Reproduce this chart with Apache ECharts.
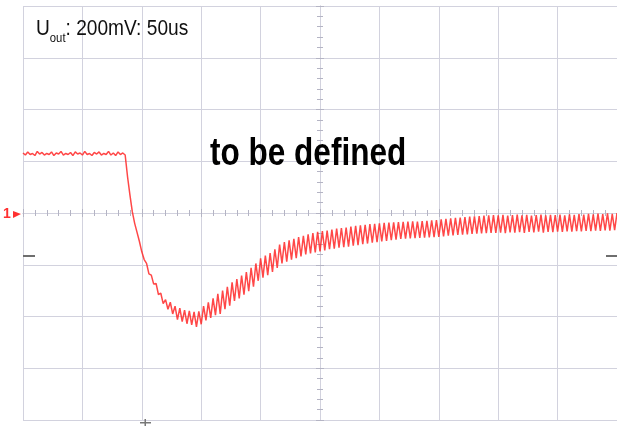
<!DOCTYPE html>
<html>
<head>
<meta charset="utf-8">
<script src="https://cdn.jsdelivr.net/npm/echarts@6/dist/echarts.min.js"></script>
<style>html,body{margin:0;padding:0;background:#fff;}#c{width:617px;height:426px;}</style>
</head>
<body>
<div id="c"></div>
<script>
// Oscilloscope capture: 200 mV/div, 50 us/div, 10 x 8 divisions
const timeMinUs = 0;
const timeMaxUs = 500;
const timeDivUs = 50;
const voltMinMv = -800;
const voltMaxMv = 800;
const voltDivMv = 200;
const sampleStartUs = 0;
const sampleStepUs = 2;
// trace values in mV, one every 2 us (0 mV = channel-1 marker)
const traceMv = [
  232,224,236,226,230,222,238,228,234,224,
  230,226,236,222,232,228,238,224,230,226,
  234,222,236,228,232,224,238,226,230,222,
  234,228,236,224,230,226,238,224,232,222,
  236,226,232,224,
  140,70,5,-40,-75,-110,-150,-180,-195,-235,
  -240,-275,-272,-315,-310,-350,-335,-372,-345,-390,
  -360,-412,-368,-420,-375,-428,-378,-432,-382,-440,
  -380,-430,-360,-415,-345,-405,-330,-395,-312,-390,
  -300,-372,-285,-358,-268,-340,-255,-330,-242,-316,
  -228,-302,-212,-285,-195,-262,-175,-250,-165,-240,
  -155,-228,-140,-212,-122,-195,-112,-188,-106,-180,
  -100,-175,-93,-168,-88,-160,-82,-156,-78,-152,
  -73,-148,-70,-145,-68,-140,-64,-138,-60,-134,
  -58,-132,-56,-130,-53,-126,-50,-124,-48,-120,
  -46,-118,-43,-115,-42,-113,-40,-110,-38,-108,
  -37,-105,-36,-103,-35,-100,-34,-99,-33,-98,
  -32,-97,-33,-96,-31,-95,-30,-94,-28,-93,
  -27,-92,-25,-90,-23,-88,-21,-87,-19,-85,
  -18,-84,-16,-83,-14,-81,-13,-80,-12,-79,
  -10,-78,-9,-77,-8,-77,-9,-76,-7,-78,
  -10,-75,-8,-76,-6,-74,-9,-77,-7,-73,
  -10,-75,-8,-72,-6,-76,-9,-73,-7,-74,
  -8,-72,-6,-73,-9,-71,-5,-72,-7,-70,
  -4,-71,-6,-69,-3,-70,-5,-68,-2,-69,
  -4,-67,-1,-68,-3,-66,0
];
const titleMain = 'U';
const titleSub = 'out';
const titleRest = ': 200mV: 50us';
const noteText = 'to be defined';

const traceData = traceMv.map((v, i) => [sampleStartUs + i * sampleStepUs, v]);

const gridLeft = 23, gridTop = 6, gridRight = 0, gridHeight = 414;
const gridWidth = 617 - gridLeft - gridRight;
const gridCol = '#d2d2de';
const tickCol = '#b4b4c4';
const narrow = '"Liberation Sans", Arial, sans-serif';
const chart = echarts.init(document.getElementById('c'), null, {renderer: 'canvas'});

function gridX() {
  return {
    type: 'value', min: timeMinUs, max: timeMaxUs, interval: timeDivUs,
    position: 'bottom',
    axisLine: {show: false}, axisTick: {show: false}, axisLabel: {show: false},
    splitLine: {show: true, lineStyle: {color: gridCol, width: 1}}
  };
}
function gridY() {
  return {
    type: 'value', min: voltMinMv, max: voltMaxMv, interval: voltDivMv,
    position: 'left',
    axisLine: {show: false}, axisTick: {show: false}, axisLabel: {show: false},
    splitLine: {show: true, lineStyle: {color: gridCol, width: 1}}
  };
}
function centerX(inside) {
  return {
    type: 'value', min: timeMinUs, max: timeMaxUs, interval: timeDivUs,
    position: 'bottom', offset: -gridHeight / 2,
    axisLine: {show: true, onZero: false, lineStyle: {color: gridCol, width: 1}},
    axisTick: {show: true, inside: inside, length: 4, lineStyle: {color: tickCol}},
    minorTick: {show: true, splitNumber: 5, length: 3, lineStyle: {color: tickCol}},
    axisLabel: {show: false}, splitLine: {show: false}
  };
}
function centerY(inside) {
  return {
    type: 'value', min: voltMinMv, max: voltMaxMv, interval: voltDivMv,
    position: 'left', offset: -gridWidth / 2,
    axisLine: {show: true, onZero: false, lineStyle: {color: gridCol, width: 1}},
    axisTick: {show: true, inside: inside, length: 4, lineStyle: {color: tickCol}},
    minorTick: {show: true, splitNumber: 5, length: 3, lineStyle: {color: tickCol}},
    axisLabel: {show: false}, splitLine: {show: false}
  };
}

chart.setOption({
  animation: false,
  backgroundColor: '#ffffff',
  grid: {left: gridLeft, top: gridTop, right: gridRight, height: gridHeight, containLabel: false},
  xAxis: [gridX(), centerX(true), centerX(false)],
  yAxis: [gridY(), centerY(true), centerY(false)],
  series: [{
    type: 'line',
    data: traceData,
    xAxisIndex: 0, yAxisIndex: 0,
    showSymbol: false,
    symbol: 'none',
    lineStyle: {color: '#ff1e1e', width: 1.5, opacity: 0.82},
    z: 5
  }],
  graphic: [
    {type: 'text', x: 36, y: 17, scaleX: 0.87, z: 10,
      style: {
        text: '{a|' + titleMain + '}{b|' + titleSub + '}{a|' + titleRest + '}',
        verticalAlign: 'top',
        rich: {
          a: {fontFamily: narrow, fontSize: 22, fill: '#111', lineHeight: 24, verticalAlign: 'middle'},
          b: {fontFamily: narrow, fontSize: 13, fill: '#111', lineHeight: 24, padding: [18, 0, 0, 0]}
        }
      }
    },
    {type: 'text', x: 210, y: 136, scaleX: 0.83, z: 10,
      style: {text: noteText, fontFamily: narrow, fontWeight: 'bold', fontSize: 38, fill: '#000', verticalAlign: 'top'}
    },
    {type: 'text', x: 3, y: 207, z: 10,
      style: {text: '1', fontFamily: narrow, fontWeight: 'bold', fontSize: 14, fill: '#ff3030', verticalAlign: 'top'}
    },
    {type: 'polygon', z: 10, shape: {points: [[13, 211], [21, 214], [13, 218]]}, style: {fill: '#ff3030'}},
    {type: 'rect', z: 10, shape: {x: 23, y: 255, width: 12, height: 2}, style: {fill: '#6e6e6e'}},
    {type: 'rect', z: 10, shape: {x: 606, y: 255, width: 11, height: 2}, style: {fill: '#6e6e6e'}},
    {type: 'rect', z: 10, shape: {x: 140, y: 422, width: 11, height: 1.5}, style: {fill: '#777'}},
    {type: 'rect', z: 10, shape: {x: 144.5, y: 419, width: 1.5, height: 7}, style: {fill: '#777'}}
  ]
});
</script>
</body>
</html>
